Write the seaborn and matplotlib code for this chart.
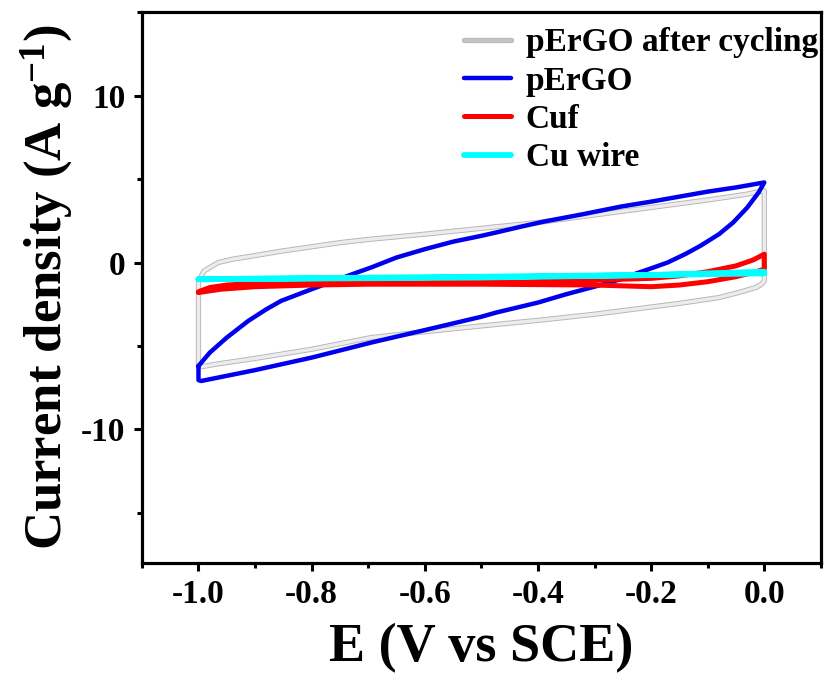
import numpy as np
import pandas as pd
import matplotlib
matplotlib.use("Agg")
import matplotlib.pyplot as plt
import matplotlib.patheffects as pe
import seaborn as sns

# Cyclic voltammograms: each loop is listed as the forward scan (-1.0 -> 0.0 V)
# followed by the reverse scan (0.0 -> -1.0 V).
cycled_E = [-1.0, -1.0, -0.995, -0.99, -0.985, -0.975, -0.965, -0.94, -0.912, -0.85,
            -0.748, -0.695, -0.6, -0.5, -0.4, -0.3, -0.2, -0.1, -0.03, -0.01, 0.0,
            0.0, -0.005, -0.015, -0.04, -0.08, -0.15, -0.254, -0.3, -0.395, -0.5,
            -0.6, -0.695, -0.8, -0.9, -0.97, -0.995, -1.0]
cycled_J = [-6.2, -1.2, -0.8, -0.5, -0.4, -0.2, 0.0, 0.2, 0.35, 0.7,
            1.2, 1.4, 1.7, 2.05, 2.4, 2.85, 3.3, 3.75, 4.1, 4.25, 4.3,
            -1.1, -1.3, -1.5, -1.75, -2.1, -2.45, -2.9, -3.1, -3.45, -3.8,
            -4.15, -4.5, -5.2, -5.75, -6.1, -6.25, -6.2]

pergo_E = [-1.0, -0.98, -0.95, -0.912, -0.88, -0.854, -0.8, -0.76, -0.72, -0.695,
           -0.65, -0.6, -0.55, -0.5, -0.474, -0.43, -0.39, -0.32, -0.254, -0.2,
           -0.15, -0.1, -0.05, 0.0,
           -0.01, -0.03, -0.055, -0.08, -0.113, -0.14, -0.171, -0.2, -0.23, -0.254,
           -0.284, -0.35, -0.4, -0.474, -0.5, -0.6, -0.695, -0.8, -0.9, -0.995,
           -1.0, -1.0]
pergo_J = [-6.2, -5.4, -4.5, -3.5, -2.8, -2.3, -1.6, -1.1, -0.6, -0.3,
           0.3, 0.8, 1.25, 1.6, 1.8, 2.15, 2.45, 2.9, 3.35, 3.65,
           3.95, 4.25, 4.5, 4.8,
           4.2, 3.3, 2.4, 1.7, 1.0, 0.5, 0.0, -0.35, -0.7, -1.0,
           -1.3, -1.9, -2.4, -3.0, -3.25, -4.05, -4.8, -5.7, -6.45, -7.1,
           -7.05, -6.2]

cuf_E = [-1.0, -0.98, -0.95, -0.9, -0.8, -0.7, -0.5, -0.3, -0.2, -0.15, -0.1, -0.05,
         -0.02, 0.0,
         0.0, -0.02, -0.05, -0.1, -0.15, -0.2, -0.25, -0.3, -0.5, -0.7, -0.8, -0.9,
         -0.96, -1.0]
cuf_J = [-1.75, -1.5, -1.35, -1.25, -1.2, -1.15, -1.12, -1.05, -0.95, -0.8, -0.55, -0.2,
         0.15, 0.5,
         -0.4, -0.6, -0.85, -1.15, -1.35, -1.45, -1.4, -1.35, -1.3, -1.3, -1.35, -1.45,
         -1.6, -1.8]

wire_E = [-1.0, -0.5, -0.2, 0.0, 0.0, -0.5, -1.0]
wire_J = [-1.0, -0.85, -0.75, -0.55, -0.65, -0.9, -1.0]

labels = ["pErGO after cycling", "pErGO", "Cuf", "Cu wire"]
colors = ["#ececec", "#0000ee", "#ff0000", "#00ffff"]
widths = [2.4, 3.2, 3.6, 4.2]

frames = []
for name, E, J in zip(labels, [cycled_E, pergo_E, cuf_E, wire_E],
                      [cycled_J, pergo_J, cuf_J, wire_J]):
    frames.append(pd.DataFrame({"E": E, "J": J, "sample": name}))
df = pd.concat(frames, ignore_index=True)

sns.set_theme(style="ticks")
plt.rcParams["font.family"] = ["Liberation Serif", "DejaVu Serif"]
plt.rcParams["font.weight"] = "bold"
plt.rcParams["mathtext.default"] = "regular"
plt.rcParams["axes.unicode_minus"] = False
for key in ["text.color", "axes.labelcolor", "xtick.color", "ytick.color",
            "axes.edgecolor"]:
    plt.rcParams[key] = "black"

fig = plt.figure(figsize=(8.25, 6.83), dpi=100)
ax = fig.add_axes([0.172, 0.176, 0.823, 0.806])

for name, c, lw in zip(labels, colors, widths):
    sub = df[df["sample"] == name]
    effects = None
    if name == "pErGO after cycling":
        effects = [pe.Stroke(linewidth=lw + 1.4, foreground="#b8b8b8"), pe.Normal()]
    sns.lineplot(data=sub, x="E", y="J", sort=False, estimator=None, color=c,
                 lw=lw, label=name, ax=ax, path_effects=effects)

ax.set_xlim(-1.1, 0.1)
ax.set_ylim(-18, 15)
ax.set_xticks([-1.0, -0.8, -0.6, -0.4, -0.2, 0.0])
ax.set_xticks(np.arange(-1.1, 0.11, 0.2), minor=True)
ax.set_yticks([-10, 0, 10])
ax.set_yticks([-15, -5, 5, 15], minor=True)
ax.xaxis.set_major_formatter(matplotlib.ticker.FormatStrFormatter("%.1f"))

for s in ax.spines.values():
    s.set_linewidth(2.3)
    s.set_color("black")
ax.tick_params(which="major", direction="out", length=6, width=2.2,
               labelsize=24, pad=6, colors="black")
ax.tick_params(which="minor", direction="out", length=3.5, width=2.2)
for t in ax.get_xticklabels() + ax.get_yticklabels():
    t.set_fontweight("bold")

ax.set_xlabel("E (V vs SCE)", fontsize=39, fontweight="bold", labelpad=9)
ax.set_ylabel("Current density (A g$^{-1}$)", fontsize=38, fontweight="bold",
              labelpad=4)

leg = ax.legend(loc="upper right", bbox_to_anchor=(1.018, 1.0), frameon=False,
                fontsize=24, handlelength=1.4, handletextpad=0.45,
                labelspacing=0.22, borderaxespad=0.2, borderpad=0.25)
for t in leg.get_texts():
    t.set_fontweight("bold")
leg.get_lines()[0].set_color("#c4c4c4")

fig.savefig("out.png", dpi=100)
